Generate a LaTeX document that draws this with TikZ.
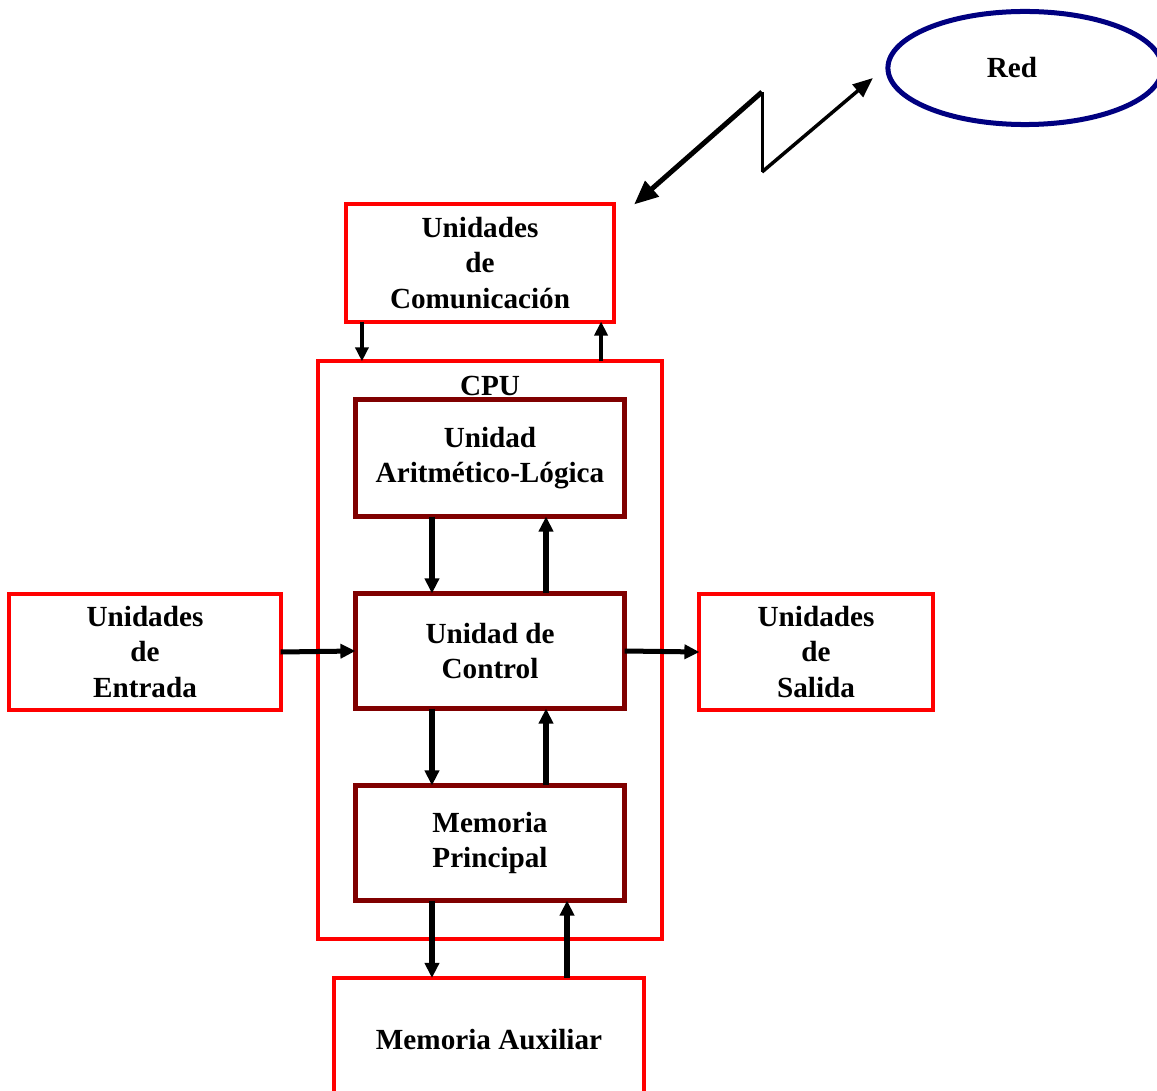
\documentclass[tikz,border=0pt]{standalone}
\usepackage{fontspec}
\setmainfont{Liberation Serif}
\usetikzlibrary{arrows.meta, positioning, calc, shapes}
\definecolor{boxred}{RGB}{255,0,0}
\definecolor{unitred}{RGB}{128,0,0}
\definecolor{netblue}{RGB}{0,0,128}

\begin{document}
\begin{tikzpicture}[x=0.01cm, y=-0.01cm,
  txt/.style={font=\fontsize{8.3}{10}\selectfont\bfseries, align=center},
  outbox/.style={txt, draw=boxred, line width=0.04cm, outer sep=0pt, inner sep=0pt},
  unitbox/.style={txt, draw=unitred, line width=0.045cm, outer sep=0pt, inner sep=0pt, minimum width=2.69cm},
  bus/.style={line width=0.06cm, -{Triangle[length=0.15cm, width=0.14cm]}},
  link/.style={line width=0.04cm, -{Triangle[length=0.14cm, width=0.13cm]}}]
  \clip (0,0) rectangle (1157,1091);
  % boxes
  \node[outbox, minimum width=2.68cm, minimum height=1.17cm] (comm) at (480,263) {Unidades\\de\\Comunicación};
  \node[outbox, minimum width=3.44cm, minimum height=5.77cm] (cpu) at (490,650) {};
  \node[txt] (cputxt) at ([yshift=-0.25cm]cpu.north) {CPU};
  \node[unitbox, minimum height=1.17cm] (alu) at (490,458) {Unidad\\Aritmético-Lógica};
  \node[unitbox, minimum height=1.15cm] (ctrl) at (490,651) {Unidad de\\Control};
  \node[unitbox, minimum height=1.15cm] (memp) at (490,843) {Memoria\\Principal};
  \node[outbox, minimum width=2.71cm, minimum height=1.16cm] (entrada) at (145,652) {Unidades\\de\\Entrada};
  \node[outbox, minimum width=2.33cm, minimum height=1.16cm] (salida) at (816,652) {Unidades\\de\\Salida};
  \node[outbox, minimum width=3.09cm, minimum height=1.24cm] (aux) at (489,1040) {Memoria Auxiliar};
  \node[ellipse, draw=netblue, line width=0.05cm, outer sep=0pt, minimum width=2.74cm, minimum height=1.13cm] (red) at (1025,68) {};
  \node[txt] (redtxt) at ([xshift=-0.13cm]red.center) {Red};
  % buses
  \draw[link] ([xshift=-1.18cm]comm.south) -- ([xshift=-1.18cm]comm.south |- cpu.north);
  \draw[link] ([xshift=1.21cm]comm.south |- cpu.north) -- ([xshift=1.21cm]comm.south);
  \draw[bus] ([xshift=-0.58cm]alu.south) -- ([xshift=-0.58cm]ctrl.north);
  \draw[bus] ([xshift=0.56cm]ctrl.north) -- ([xshift=0.56cm]alu.south);
  \draw[bus] ([xshift=-0.58cm]ctrl.south) -- ([xshift=-0.58cm]memp.north);
  \draw[bus] ([xshift=0.56cm]memp.north) -- ([xshift=0.56cm]ctrl.south);
  \draw[bus] ([xshift=-0.58cm]memp.south) -- ([xshift=-0.58cm]memp.south |- aux.north);
  \draw[bus] ([xshift=0.77cm]memp.south |- aux.north) -- ([xshift=0.77cm]memp.south);
  \draw[bus, line width=0.05cm] (entrada.east) -- (ctrl.west);
  \draw[bus, line width=0.05cm] (ctrl.east) -- (salida.west);
  % network link
  \coordinate (zztop) at (762,92);
  \coordinate (zzbot) at (762,172);
  \draw[line width=0.05cm, -{Triangle[length=0.24cm, width=0.2cm]}] (zztop) -- ([xshift=0.2cm]comm.north east);
  \draw[line width=0.03cm] (zztop) -- (zzbot);
  \draw[line width=0.035cm, -{Triangle[length=0.2cm, width=0.16cm]}] (zzbot) -- ([xshift=-0.15cm, yshift=-0.1cm]red.west);
\end{tikzpicture}
\end{document}
